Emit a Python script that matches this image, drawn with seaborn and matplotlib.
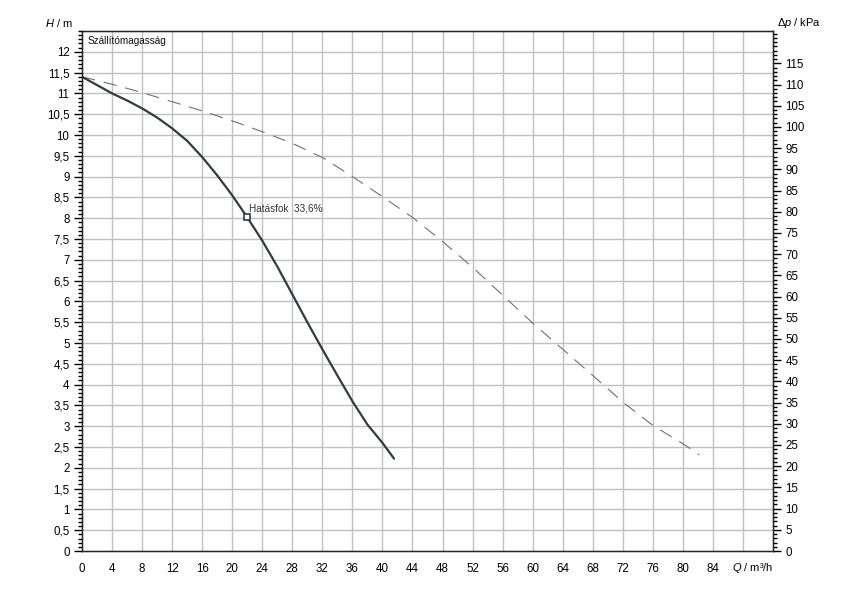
import matplotlib
matplotlib.use("Agg")
import matplotlib.pyplot as plt
import matplotlib.ticker as mticker
import matplotlib.transforms as mtrans
import numpy as np
import pandas as pd
import seaborn as sns

# pump curve
q_solid = [0, 2, 4, 6, 8, 10, 12, 14, 16, 18, 20, 22, 24, 26, 28, 30, 32, 34, 36,
           38, 40, 41.55]
h_solid = [11.4, 11.2, 11.0, 10.83, 10.64, 10.42, 10.16, 9.86, 9.47, 9.03, 8.55,
           8.02, 7.46, 6.84, 6.17, 5.5, 4.85, 4.22, 3.6, 3.04, 2.6, 2.22]

q_dash = [0, 4, 8, 12, 16, 20, 24, 28, 32, 36, 40, 44, 48, 52, 56, 60, 64, 68,
          72, 76, 80, 82.2]
h_dash = [11.4, 11.22, 11.02, 10.8, 10.58, 10.34, 10.08, 9.8, 9.46, 9.0, 8.52,
          8.02, 7.44, 6.82, 6.15, 5.48, 4.85, 4.22, 3.58, 3.02, 2.58, 2.31]

duty_q = 22
duty_h = 8.02
duty_text = "Hatásfok  33,6%"

x_ticks = list(range(0, 85, 4))
h_ticks = np.arange(0, 12.01, 0.5)
p_ticks = list(range(0, 116, 5))

sns.set_style("white")
plt.rcParams['font.family'] = ['Liberation Sans', 'DejaVu Sans']
plt.rcParams['font.size'] = 8
plt.rcParams['text.color'] = 'black'
plt.rcParams['xtick.color'] = 'black'
plt.rcParams['ytick.color'] = 'black'
plt.rcParams['mathtext.fontset'] = 'custom'
plt.rcParams['mathtext.it'] = 'Liberation Sans:italic'
plt.rcParams['mathtext.rm'] = 'Liberation Sans'

fig = plt.figure(figsize=(8.5, 6), dpi=100)
ax = fig.add_axes([82/850, 49/600, (773-82)/850, (551-31)/600])

ax.set_xlim(0, 92)
ax.set_ylim(0, 12.5)

# grid
for xv in range(4, 89, 4):
    ax.axvline(xv, color='#c0c0c0', lw=1, zorder=0)
for yv in h_ticks[1:]:
    ax.axhline(yv, color='#c0c0c0', lw=1, zorder=0)

df_s = pd.DataFrame({'Q': q_solid, 'H': h_solid})
df_d = pd.DataFrame({'Q': q_dash, 'H': h_dash})
sns.lineplot(data=df_d, x='Q', y='H', ax=ax, color='#707070', lw=0.8,
             linestyle=(0, (12, 8)), sort=False)
sns.lineplot(data=df_s, x='Q', y='H', ax=ax, color='#333a45', lw=1.6, sort=False)
ax.plot([duty_q], [duty_h], marker='s', ms=5, mfc='white', mec='#333a45', mew=1.2, zorder=5)
ax.text(duty_q + 0.3, duty_h + 0.1, duty_text, fontsize=7.2, color='#333333', va='bottom')

ax.text(0.8, 12.27, "Szállítómagasság", fontsize=7.2, color='#111111', va='center')

ax.set_xlabel("")
ax.set_ylabel("")
ax.set_xticks(x_ticks)
ax.set_xticklabels([str(v) for v in x_ticks])
ax.xaxis.set_minor_locator(mticker.MultipleLocator(1))
ax.set_yticks(h_ticks)
ax.set_yticklabels([("%g" % v).replace('.', ',') for v in h_ticks])
ax.yaxis.set_minor_locator(mticker.MultipleLocator(0.1))
ax.tick_params(which='major', direction='out', length=6, width=1, labelsize=8.3, pad=3)
ax.tick_params(which='minor', direction='out', length=3, width=1)
for s in ax.spines.values():
    s.set_color('black')
    s.set_linewidth(1)

ax2 = ax.twinx()
ax2.set_ylim(0, 12.5 * 9.81)
ax2.set_yticks(p_ticks)
ax2.set_yticklabels([str(v) for v in p_ticks])
ax2.yaxis.set_minor_locator(mticker.MultipleLocator(1))
ax2.tick_params(which='major', direction='out', length=6, width=1, labelsize=8.3, pad=3)
ax2.tick_params(which='minor', direction='out', length=3, width=1)
ax2.grid(False)

# axis titles
ax.text(-0.013, 1.015, "$\\mathit{H}$ / m", transform=ax.transAxes, ha='right', va='center', fontsize=8)
ax2.text(1.006, 1.015, "Δ$\\mathit{p}$ / kPa", transform=ax.transAxes, ha='left', va='center', fontsize=8)
trans = mtrans.blended_transform_factory(ax.transData, ax.transAxes)
ax.text(89.3, -0.032, "$\\mathit{Q}$ / m³/h", transform=trans, ha='center', va='center', fontsize=8)

fig.savefig("out.png", dpi=100)
